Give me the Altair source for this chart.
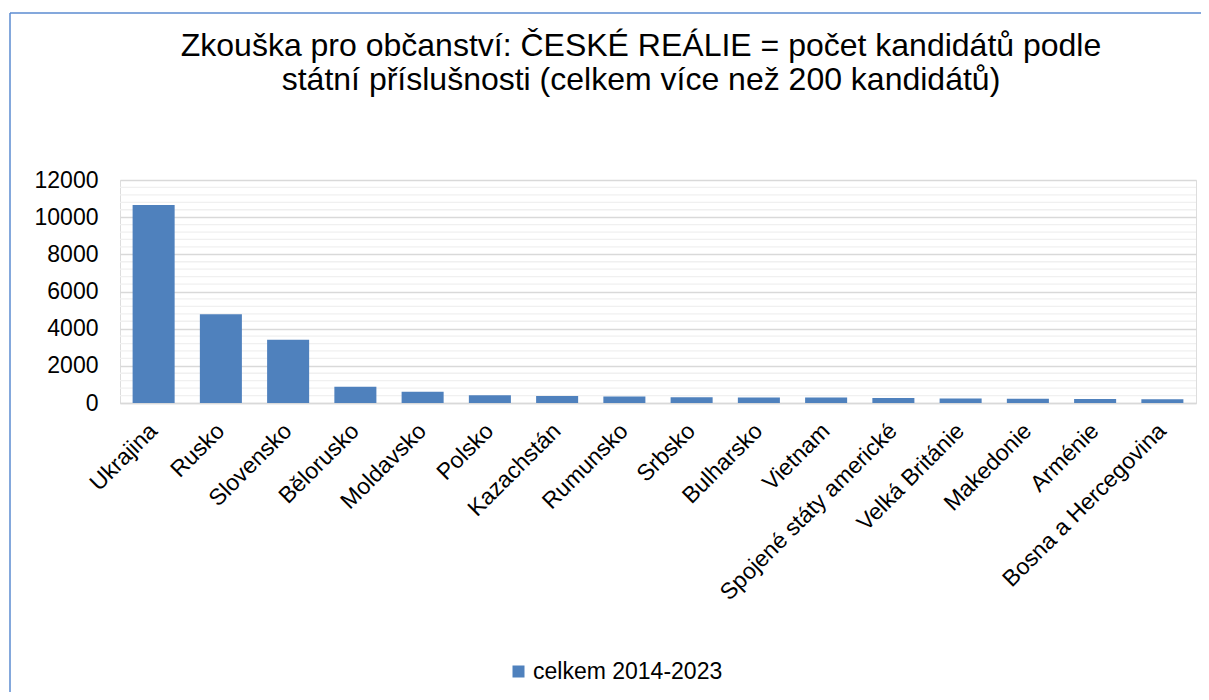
import altair as alt
import pandas as pd

countries = ["Ukrajina", "Rusko", "Slovensko", "Bělorusko", "Moldavsko", "Polsko",
             "Kazachstán", "Rumunsko", "Srbsko", "Bulharsko", "Vietnam",
             "Spojené státy americké", "Velká Británie", "Makedonie", "Arménie",
             "Bosna a Hercegovina"]
values = [10650, 4780, 3400, 870, 610, 420, 380, 345, 310, 295, 290, 270, 240, 225, 210, 205]
series_name = "celkem 2014-2023"
major_ticks = [0, 2000, 4000, 6000, 8000, 10000, 12000]
minor_ticks = [v for v in range(0, 12001, 400) if v % 2000 != 0]
title_lines = ["Zkouška pro občanství: ČESKÉ REÁLIE = počet kandidátů podle",
               "státní příslušnosti (celkem více než 200 kandidátů)"]

FONT = "Liberation Sans"
BLUE = "#4F81BD"

df = pd.DataFrame({"stat": countries, "pocet": values, "serie": [series_name] * len(countries)})
minor_df = pd.DataFrame({"pocet": minor_ticks})
one = pd.DataFrame({"a": [0]})

y_scale = alt.Scale(domain=[0, 12000], nice=False)
y_axis = alt.Axis(values=major_ticks, format="d", title=None, labelFontSize=23, labelFont=FONT,
                  labelColor="#000000", ticks=False, tickSize=0, labelPadding=22,
                  domain=False, grid=True, gridColor="#D9D9D9", gridWidth=1.4,
                  minExtent=112, maxExtent=112)

minor = alt.Chart(minor_df).mark_rule(color="#F0F0F0", strokeWidth=1.3).encode(
    y=alt.Y("pocet:Q", scale=y_scale, axis=y_axis)
)

bars = alt.Chart(df).mark_bar().encode(
    x=alt.X("stat:N", sort=countries, title=None,
            scale=alt.Scale(paddingInner=0.375, paddingOuter=0.1875),
            axis=alt.Axis(labelAngle=-45, labelAlign="right", labelBaseline="middle",
                          labelFontSize=23, labelFont=FONT, labelColor="#000000",
                          labelPadding=24, ticks=False, tickSize=0,
                          domainColor="#D9D9D9", domainWidth=1.5,
                          labelLimit=0, labelOverlap=False, grid=False)),
    y=alt.Y("pocet:Q", scale=y_scale, axis=y_axis),
    color=alt.Color("serie:N", scale=alt.Scale(range=[BLUE]),
                    legend=alt.Legend(title=None, orient="none", legendX=387, legendY=480,
                                      symbolType="square", symbolSize=144,
                                      symbolStrokeWidth=0, labelFontSize=23,
                                      labelFont=FONT, labelColor="#000000",
                                      labelOffset=3, padding=0, labelLimit=0)),
)

border_left = alt.Chart(one).mark_rule(color="#5B8BD0", strokeWidth=1.5).encode(
    x=alt.value(-110), y=alt.value(-167), y2=alt.value(520)
)
border_top = alt.Chart(one).mark_rule(color="#5B8BD0", strokeWidth=1.5).encode(
    x=alt.value(-110), x2=alt.value(1090), y=alt.value(-167)
)

chart = alt.layer(minor, bars, border_left, border_top).properties(
    width=1076, height=223,
    title=alt.TitleParams(text=title_lines, fontSize=32, font=FONT, color="#000000",
                          fontWeight="normal", anchor="middle", lineHeight=34,
                          offset=-85, dx=-17),
    autosize=alt.AutoSizeParams(type="none"),
    padding={"left": 112, "top": 172, "right": 5, "bottom": 289},
).configure_view(stroke=None).configure(background="white")

chart.save("out.html", embed_options={"renderer": "svg", "actions": False})
